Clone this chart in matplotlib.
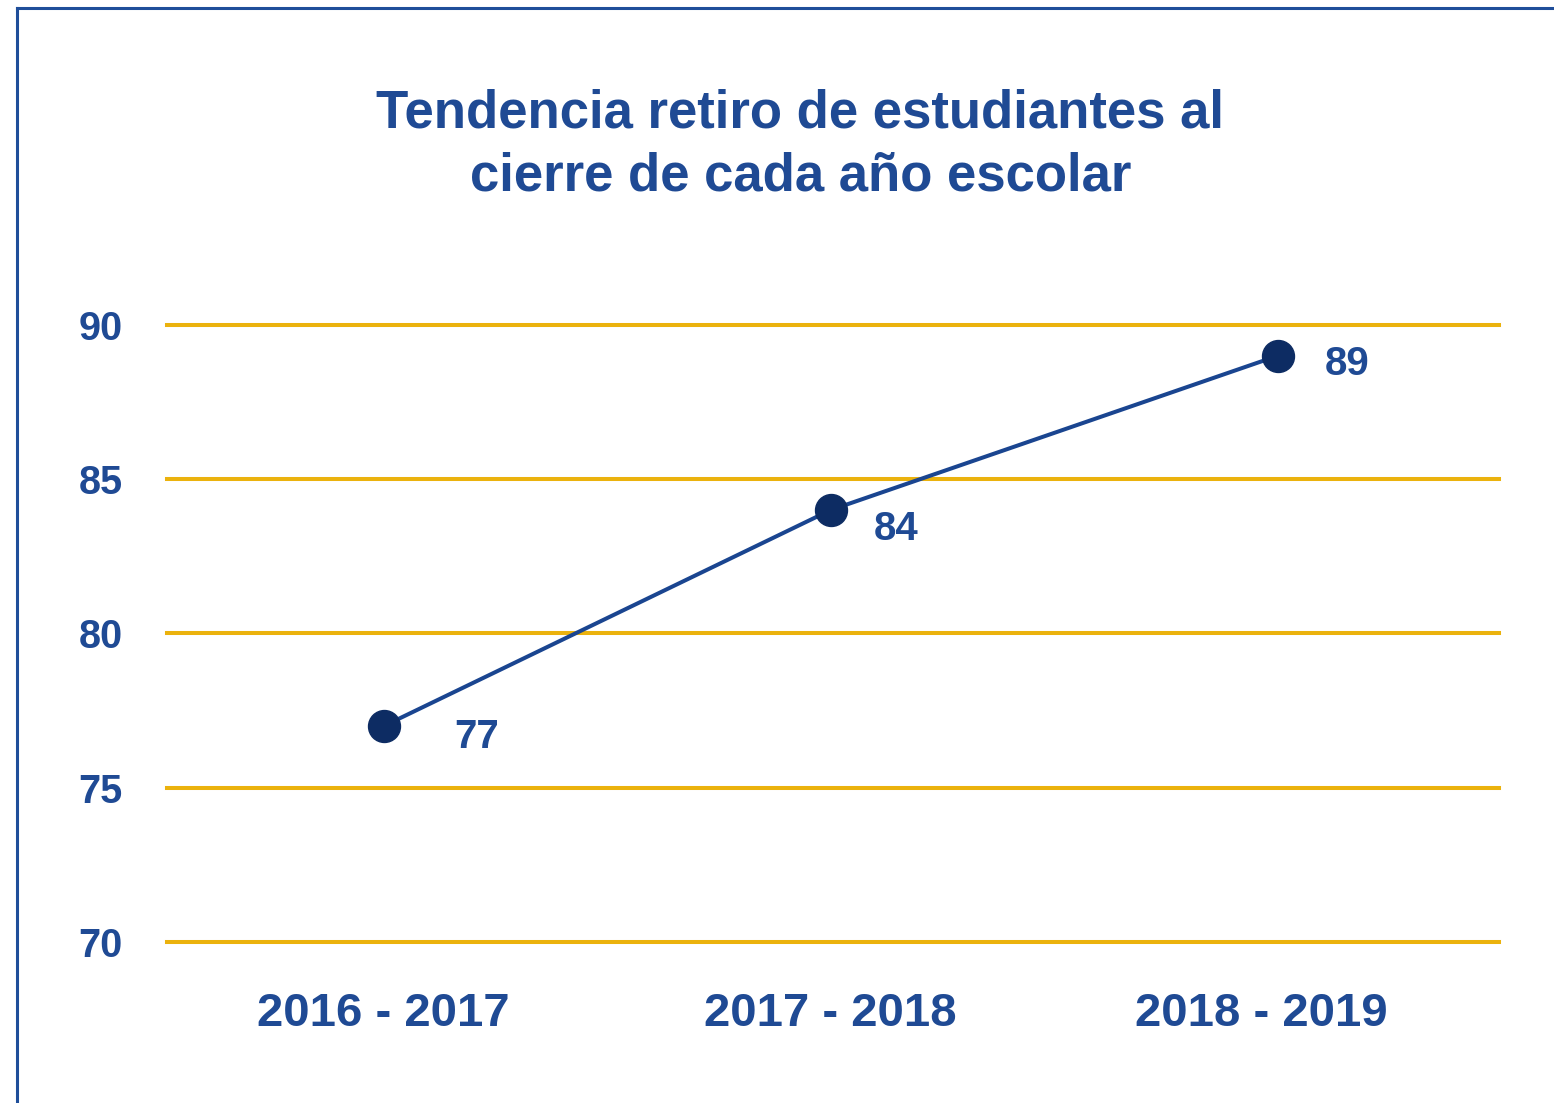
import matplotlib.pyplot as plt
import matplotlib.transforms as mtransforms
from matplotlib.lines import Line2D

# datos
periodos = ["2016 - 2017", "2017 - 2018", "2018 - 2019"]
retiros = [77, 84, 89]
y_ticks = [70, 75, 80, 85, 90]
titulo = "Tendencia retiro de estudiantes al\ncierre de cada año escolar"

azul_texto = "#1f4a94"
azul_linea = "#1a4590"
azul_punto = "#0d2c63"
dorado = "#ebb20d"

plt.rcParams['font.family'] = ['Liberation Sans', 'DejaVu Sans']

fig = plt.figure(figsize=(15.54, 11.03), dpi=100)
ax = fig.add_axes([0.1075, 0.146, 0.857, 0.5594])

x = list(range(len(periodos)))
for yt in y_ticks:
    ax.axhline(yt, color=dorado, linewidth=2.9, zorder=1, clip_on=False)

ax.plot(x, retiros, color=azul_linea, linewidth=2.9, zorder=2)
ax.plot(x, retiros, 'o', color=azul_punto, markersize=23, zorder=3)

# etiquetas de valores (desplazamiento en puntos)
offsets = [(51, -8), (31, -14), (34, -6)]
for xi, v, off in zip(x, retiros, offsets):
    ax.annotate(str(v), (xi, v), xytext=off, textcoords='offset points',
                ha='left', va='center', fontsize=29, fontweight='bold', color=azul_texto)

ax.set_xlim(-0.485, 2.495)
ax.set_ylim(70, 90)
ax.set_xticks(x)
ax.set_xticklabels(periodos, fontsize=34, fontweight='bold', color=azul_texto)
ax.set_yticks(y_ticks)
ax.set_yticklabels([str(t) for t in y_ticks], fontsize=28.5, fontweight='bold', color=azul_texto)
ax.tick_params(axis='both', length=0)
ax.tick_params(axis='y', pad=32)
ax.tick_params(axis='x', pad=36)
for s in ax.spines.values():
    s.set_visible(False)

# la última etiqueta del eje x está algo corrida a la izquierda
ultima = ax.get_xticklabels()[-1]
ultima.set_transform(ultima.get_transform() +
                     mtransforms.ScaledTranslation(-0.16, 0, fig.dpi_scale_trans))

fig.text(0.515, 0.8685, titulo, ha='center', va='center', fontsize=38,
         fontweight='bold', color=azul_texto, linespacing=1.32)

# marco
fig.add_artist(Line2D([0.011, 0.011], [0.0, 0.9925], color="#1f4e9a", linewidth=2.2))
fig.add_artist(Line2D([0.011, 1.0], [0.9925, 0.9925], color="#1f4e9a", linewidth=2.2))

fig.savefig("out.png", dpi=100)
